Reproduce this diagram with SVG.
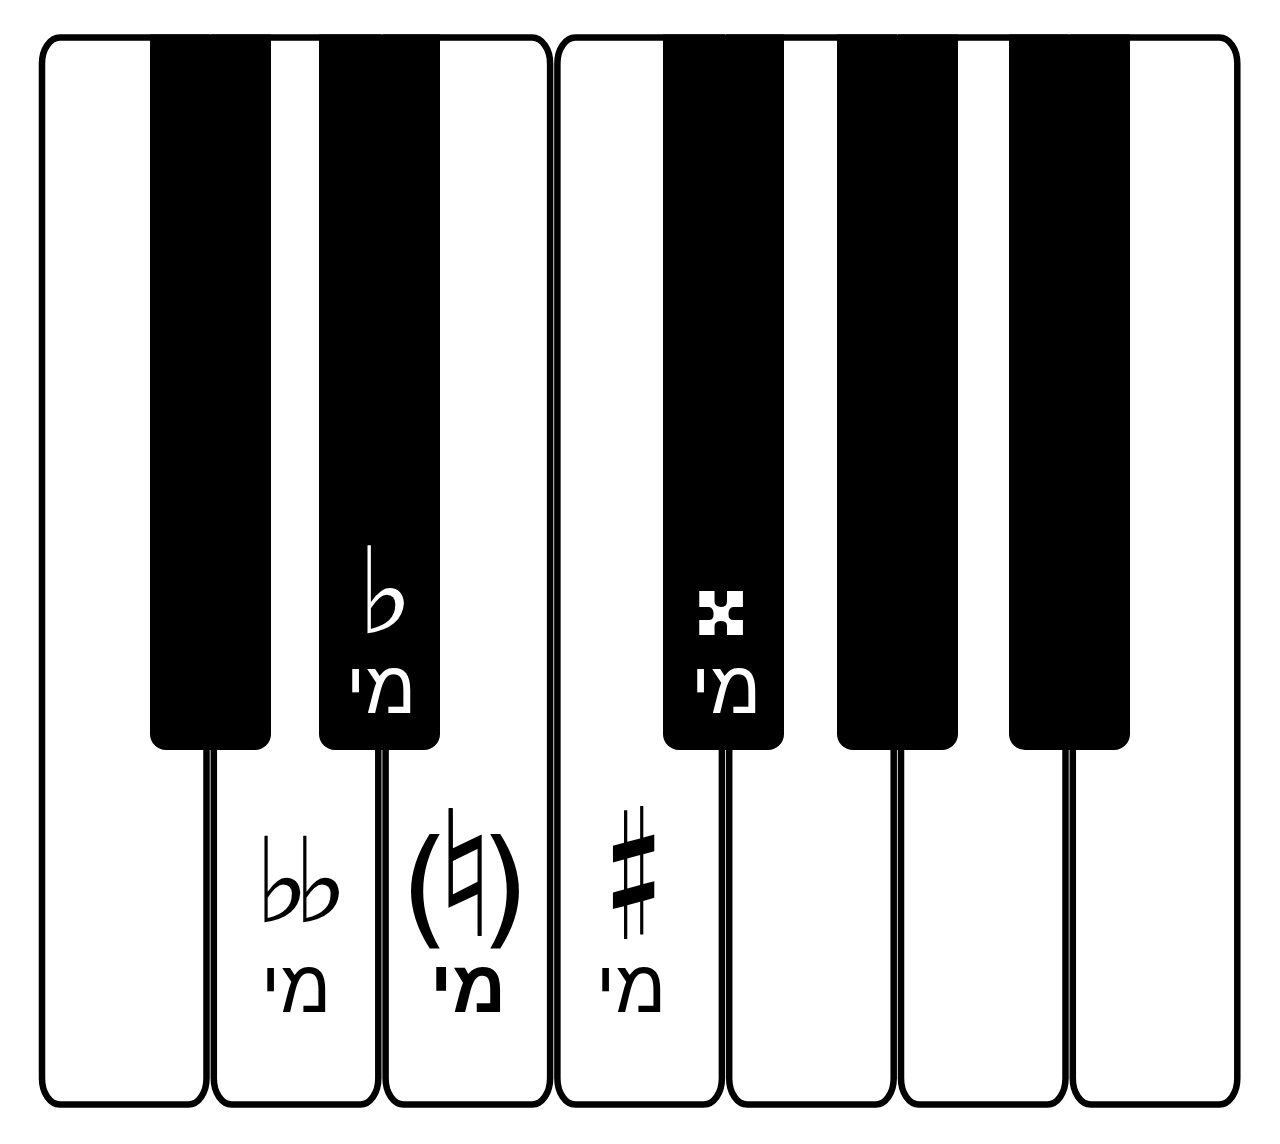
<svg xmlns="http://www.w3.org/2000/svg" width="1280" height="1144" viewBox="0 0 1280 1144">
<style>
.w{fill:#fff;stroke:#000;stroke-width:6.5;stroke-linejoin:miter}
.b{fill:#000}
.heb{font-family:"Liberation Sans","DejaVu Sans",sans-serif;font-size:74px;text-anchor:middle}
.acc{font-family:"DejaVu Sans",sans-serif;text-anchor:middle}
.cjk{font-family:"Noto Sans CJK JP","DejaVu Sans",sans-serif;text-anchor:middle}
.wt{fill:#fff}
.bt{fill:#000}
</style>
<rect width="1280" height="1144" fill="#fff"/>
<g id="white-keys">
<path id="key-C" class="w" d="M42,63.5 A18,26 0 0 1 60,37.5 H206.5 V1078.5 A18,26 0 0 1 188.5,1104.5 H60 A18,26 0 0 1 42,1078.5 Z"/>
<path id="key-D" class="w" d="M213.8,37.5 H378.3 V1078.5 A18,26 0 0 1 360.3,1104.5 H231.8 A18,26 0 0 1 213.8,1078.5 Z"/>
<path id="key-E" class="w" d="M385.6,37.5 H532.1 A18,26 0 0 1 550.1,63.5 V1078.5 A18,26 0 0 1 532.1,1104.5 H403.6 A18,26 0 0 1 385.6,1078.5 Z"/>
<path id="key-F" class="w" d="M557.4,63.5 A18,26 0 0 1 575.4,37.5 H721.9 V1078.5 A18,26 0 0 1 703.9,1104.5 H575.4 A18,26 0 0 1 557.4,1078.5 Z"/>
<path id="key-G" class="w" d="M729.2,37.5 H893.7 V1078.5 A18,26 0 0 1 875.7,1104.5 H747.2 A18,26 0 0 1 729.2,1078.5 Z"/>
<path id="key-A" class="w" d="M901,37.5 H1065.5 V1078.5 A18,26 0 0 1 1047.5,1104.5 H919 A18,26 0 0 1 901,1078.5 Z"/>
<path id="key-B" class="w" d="M1072.8,37.5 H1219.3 A18,26 0 0 1 1237.3,63.5 V1078.5 A18,26 0 0 1 1219.3,1104.5 H1090.8 A18,26 0 0 1 1072.8,1078.5 Z"/>
</g>
<g id="black-keys">
<path id="key-Cs" class="b" d="M150,34.5 H271 V734 A16,16 0 0 1 255,750 H166 A16,16 0 0 1 150,734 Z"/>
<path id="key-Ds" class="b" d="M319,34.5 H440 V734 A16,16 0 0 1 424,750 H335 A16,16 0 0 1 319,734 Z"/>
<path id="key-Fs" class="b" d="M663,34.5 H784 V734 A16,16 0 0 1 768,750 H679 A16,16 0 0 1 663,734 Z"/>
<path id="key-Gs" class="b" d="M837,34.5 H958 V734 A16,16 0 0 1 942,750 H853 A16,16 0 0 1 837,734 Z"/>
<path id="key-As" class="b" d="M1009,34.5 H1130 V734 A16,16 0 0 1 1114,750 H1025 A16,16 0 0 1 1009,734 Z"/>
</g>
<g id="labels">
<g id="label-Eflat">
<text class="acc wt" x="385" y="633" font-size="120">♭</text>
<text class="heb wt" x="381" y="713">מי</text>
</g>
<g id="label-Edoublesharp">
<text class="acc wt" x="721" y="634" font-size="116">𝄪</text>
<text class="heb wt" x="726" y="713">מי</text>
</g>
<g id="label-Edoubleflat">
<text class="acc bt" x="293" y="922" font-size="118" letter-spacing="-17">♭♭</text>
<text class="heb bt" x="296" y="1012">מי</text>
</g>
<g id="label-Enatural">
<text class="acc bt" font-size="128"><tspan x="425" y="932">(</tspan><tspan x="465" y="936" font-size="175" font-weight="bold">♮</tspan><tspan x="505" y="932">)</tspan></text>
<text class="heb bt" x="468" y="1012" font-size="78" font-weight="bold">מי</text>
</g>
<g id="label-Esharp">
<text class="cjk bt" transform="translate(634,928) scale(0.55,1)" x="0" y="0" font-size="148" font-weight="bold">♯</text>
<text class="heb bt" x="631" y="1012">מי</text>
</g>
</g>
</svg>
